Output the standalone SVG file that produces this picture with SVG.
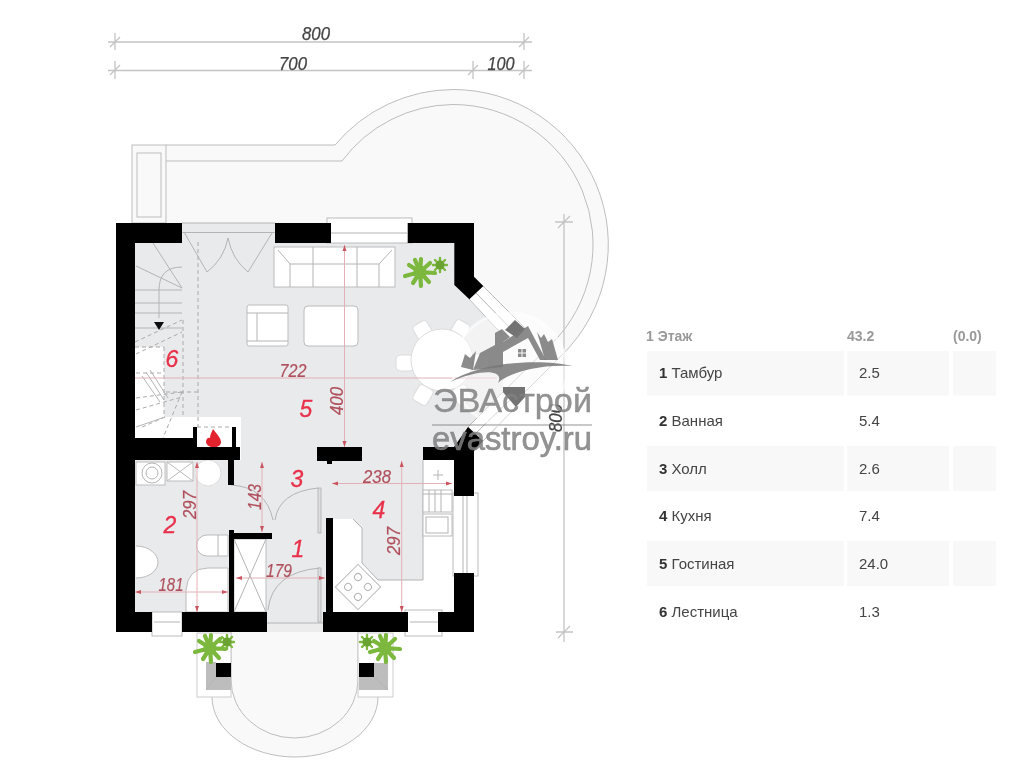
<svg xmlns="http://www.w3.org/2000/svg" width="1024" height="768" viewBox="0 0 1024 768">
<defs>
<filter id="soft" x="0" y="0" width="1024" height="768" filterUnits="userSpaceOnUse"><feGaussianBlur stdDeviation="0.5"/></filter>
<filter id="soft2" x="0" y="0" width="1024" height="768" filterUnits="userSpaceOnUse"><feGaussianBlur stdDeviation="0.3"/></filter>
<style>
.ln{fill:none;stroke:#b4b4b4;stroke-width:1}
.wf{fill:#fff;stroke:#bcbcbc;stroke-width:1}
.ter{fill:#f9f9f9;stroke:#bdbdbd;stroke-width:1}
.tl{fill:none;stroke:#bdbdbd;stroke-width:1}
.tf{fill:#f9f9f9}
.wall{fill:#000}
.dash{fill:none;stroke:#aaa;stroke-width:1;stroke-dasharray:4 3}
.dim{fill:none;stroke:#e2b0b6;stroke-width:1}
.ar{fill:#c9545f}
.gd{fill:none;stroke:#c4c4c4;stroke-width:1.3}
.dt{font:italic 18px "Liberation Sans",Arial,sans-serif;fill:#444;text-anchor:middle;stroke:#444;stroke-width:.25}
.rd{font:italic 18px "Liberation Sans",Arial,sans-serif;fill:#b0505c;text-anchor:middle;stroke:#b0505c;stroke-width:.2}
.rm{font:italic 23px "Liberation Sans",Arial,sans-serif;fill:#e8304a;text-anchor:middle;stroke:#e8304a;stroke-width:.3}
.th{font:bold 14px "Liberation Sans",Arial,sans-serif;fill:#999}
.td{font:15px "Liberation Sans",Arial,sans-serif;fill:#444}
.tb{font-weight:bold;fill:#333}
.rw{fill:#f8f8f8}
.lg{font-family:"Liberation Sans",Arial,sans-serif;fill:#808080;fill-opacity:.85;stroke:#808080;stroke-opacity:.85}
</style>
<g id="plant"><path fill="none" stroke="#7cb83c" stroke-width="4.200" stroke-linecap="round" d="M0 0L1 -13M0 0L10 -9M0 0L15 1M0 0L9 10M0 0L1 14M0 0L-7 11M0 0L-15 4M0 0L-11 -7M0 0L-5 -12"/><circle r="6.500" fill="#7cb83c"/></g>
<g id="plants"><path fill="none" stroke="#7cb83c" stroke-width="2.400" stroke-linecap="round" d="M0 0L0 -7M0 0L5 -5M0 0L7 0M0 0L5 5M0 0L0 7M0 0L-5 5M0 0L-7 0M0 0L-5 -5"/><circle r="4.500" fill="#6aa330"/></g>
<rect id="chair" x="-9" y="-8" width="18" height="16" rx="4" fill="#fff" stroke="#dcdcdc"/>
</defs>
<rect width="1024" height="768" fill="#fff"/>

<g filter="url(#soft)">
<g id="top-dimensions">
<path class="gd" d="M108 42H532M108 70.500H532M115 33V50M524 33V50M115 61V79M473 61V79M524 61V79M110 47L120 37M519 47L529 37M110 75L120 65M468 75L478 65M519 75L529 65"/>
<text class="dt" x="316" y="39.500" textLength="28" lengthAdjust="spacingAndGlyphs">800</text>
<text class="dt" x="293" y="69.500" textLength="28" lengthAdjust="spacingAndGlyphs">700</text>
<text class="dt" x="501" y="69.500" textLength="27" lengthAdjust="spacingAndGlyphs">100</text>
</g>

<g id="terrace">
<path class="tf" d="M166 145H335A155 155 0 0 1 453 89.500A155 155 0 0 1 563 354L480 437L454 447V223H166Z"/>
<path class="tl" d="M166 145H335A155 155 0 0 1 453 89.500A155 155 0 0 1 563 354L480 437"/>
<path class="tl" d="M166 161H342A140 140 0 0 1 453 104.500A140 140 0 0 1 552 343.500L474 421"/>
<rect class="ter" x="132" y="145" width="34" height="78"/>
<rect class="ter" x="137" y="153" width="24" height="64"/>
<path id="porch-outer" class="ter" d="M212 697A83 60 0 0 0 378 697"/>
<path id="porch-inner" class="ter" d="M231 632V680A63.500 58 0 0 0 358 680V632"/>
<path class="gd" d="M564 214V642M555 222H573M556 632H573M558 228L570 216M558 638L570 626"/>
<text class="dt" transform="translate(562 418) rotate(-90)" textLength="28" lengthAdjust="spacingAndGlyphs">800</text>
</g>

<g id="floors">
<path fill="#e9eaec" d="M135 242H182V223H275V242H454V285L497 328L503 340V392L468 427L454 447H423V580H378L362 563V528L353 519H333V612H323V632H267V612H234V480H241V417H164V347H135Z"/>
<path fill="#e9eaec" d="M135 460H229V612H135Z"/>
<path fill="#e9eaec" d="M228 460H320V540H228Z"/>
<rect x="267" y="623" width="56" height="9" fill="#ececec"/>
<path class="ln" d="M182 232.500H275M267 623H323M182 223H275"/>
</g>

<g id="stairs">
<path class="ln" d="M135 290H182M135 303H182M135 313H182M135 328H182M153 243L182 288M136 266L182 288M159 318V290Q159 267 182 267"/>
<path d="M154 322H164L159 330Z" fill="#111"/>
<path class="dash" d="M198 242V427M183 320V415M135 342L182 320M135 347H164M164 347V417M136 373H164M136 398L182 392M198 392H164M136 410L182 397M165 417L140 428M182 392L163 438M136 354L182 332"/>
<path class="ln" d="M142 376L160 402M146 372L164 400M150 370L168 398M136 427L165 417"/>
</g>

<g id="planters">
<rect x="197" y="633" width="34" height="64" fill="#fff" stroke="#ccc"/>
<rect x="358" y="633" width="35" height="64" fill="#fff" stroke="#ccc"/>
<path fill="#bdbdbd" d="M206 662H216V677H231V690H206Z"/>
<path fill="#bdbdbd" d="M374 663H388V690H359V677H374Z"/>
<path class="ln" d="M206 690L216 677M388 690L374 677"/>
</g>

<g id="furniture">
<g id="sofa"><rect class="wf" x="274" y="247" width="121" height="40"/><path class="ln" d="M278 250L290 264H379L392 250M290 264V287M379 264V287M313 247V287M357 247V287"/></g>
<g id="armchair"><rect class="wf" x="247" y="305" width="41" height="41" rx="2"/><path class="ln" d="M247 313H288M247 341H288M257 313V341"/></g>
<rect id="armchair-2" class="wf" x="304" y="306" width="54" height="40" rx="4" stroke-width="2"/>
<g id="dining">
<use href="#chair" transform="translate(405 363) rotate(0)"/>
<use href="#chair" transform="translate(423 331) rotate(60)"/>
<use href="#chair" transform="translate(460 330) rotate(-60)"/>
<use href="#chair" transform="translate(423 395) rotate(-60)"/>
<use href="#chair" transform="translate(462 395) rotate(60)"/>
<use href="#chair" transform="translate(480 362) rotate(0)"/>
<circle cx="442" cy="360" r="31" fill="#fff" stroke="#dcdcdc"/>
</g>
<g id="double-door"><path class="ln" d="M184 232L207 272Q224 259 228 238Q232 259 248 272L272 233"/></g>
<g id="fireplace"><rect x="197" y="427" width="35" height="20" fill="#fff"/><path class="dash" d="M197 427H232"/><path fill="#e3202e" d="M213 429C216 433 221 438 221 442C221 449 207 449 206 442C206 438 209 437 210 438C210 434 212 432 213 429Z"/></g>
<g id="bath">
<rect class="wf" x="136" y="462" width="29" height="23"/><circle class="ln" cx="152" cy="473" r="10"/><circle class="ln" cx="152" cy="473" r="6"/>
<path class="wf" d="M167 462H193V481H167ZM167 462L193 481M193 462L167 481"/>
<circle cx="208" cy="473" r="13" fill="#fff" stroke="#ddd"/>
<path class="wf" d="M228 535H207A10.500 10.500 0 0 0 207 556H228Z"/>
<path class="ln" d="M218 535V556"/>
<path class="wf" d="M136 546C150 546 158 555 158 562C158 570 150 578 136 578"/>
<path class="wf" d="M186 612V590Q188 568 208 568H228V612Z"/>
</g>
<g id="shower"><rect class="wf" x="234" y="539" width="32" height="73"/><path class="ln" d="M234 539L266 612M266 539L234 612"/></g>
<g id="doors">
<path class="ln" d="M275 520Q279 492 318 488M231 485Q266 487 273 520M268 610Q272 572 320 568"/>
<rect x="318" y="488" width="3" height="45" fill="#ddd" stroke="#aaa" stroke-width=".7"/>
<rect x="318" y="568" width="3" height="54" fill="#ddd" stroke="#aaa" stroke-width=".7"/>
</g>
<g id="kitchen">
<path fill="#fff" d="M333 519H353L362 528V563L378 580H423V460H454V612H333Z"/>
<path class="ln" d="M423 460V580H378L362 563V528L353 519"/>
<rect class="wf" x="423" y="490" width="29" height="22"/><path class="ln" d="M429 490V512M435 490V512M441 490V512M423 494H452"/>
<rect class="wf" x="423" y="514" width="29" height="22"/><rect class="ln" x="426" y="517" width="22" height="16"/>
<path class="ln" d="M433 475H443M438 470V480"/>
<g transform="translate(358 587) rotate(45)"><rect class="wf" x="-16" y="-16" width="32" height="32"/><circle class="ln" cx="-7" cy="-7" r="3.500"/><circle class="ln" cx="7" cy="-7" r="3.500"/><circle class="ln" cx="-7" cy="7" r="3.500"/><circle class="ln" cx="7" cy="7" r="3.500"/></g>
</g>
<g id="plants-group">
<use href="#plant" x="420" y="272"/><use href="#plants" x="440" y="265"/>
<use href="#plant" x="210" y="648"/><use href="#plants" x="227" y="642"/>
<use href="#plant" x="385" y="648"/><use href="#plants" x="367" y="642"/>
</g>
</g>

<g id="windows">
<rect class="wf" x="327" y="218" width="85" height="25"/><path class="ln" d="M331 233H407"/>
<rect class="wf" x="152" y="612" width="30" height="24"/><path class="ln" d="M154 622H180"/>
<rect class="wf" x="405" y="610" width="37" height="26"/><path class="ln" d="M410 622H438"/>
<rect class="wf" x="453" y="493" width="25" height="83"/><path class="ln" d="M463 496V573M467 496V573"/>
<path class="wf" d="M469 299L483 286L525 328L510 343Z"/><path class="ln" d="M476 293L518 336"/>
<path class="wf" d="M483 441L468 427L503 392L516 407Z"/><path class="ln" d="M475 434L510 400"/>
</g>

<g id="walls" class="wall">
<path d="M116 223H182V243H135V438H193V427H197V447H232V427H236V447H240V460H234V485H228V460H135V612H152V632H116Z"/>
<rect x="275" y="223" width="56" height="20"/>
<path d="M407.700 223H474V276.700L483.300 286L469.300 299.300L454.300 285V243H407.700Z"/>
<path d="M505 330L515 320L525 329L517 338Z"/>
<path d="M503 387H525V397L516 407L503 392Z"/>
<path d="M423 447H454L468 427L483 441L474 451V496H454V460H423Z"/>
<rect x="317" y="447" width="45" height="14"/><rect x="327" y="461" width="5" height="3"/>
<path d="M182 612H229V530H234V533H272V539H234V612H267V632H182Z"/>
<path d="M326 518H333V612H408V632H323V612H326Z"/>
<path d="M454 573H474V632H438V612H454Z"/>
<rect x="216" y="663" width="15" height="14"/><rect x="359" y="663" width="15" height="14"/>
</g>

<g id="dims">
<path class="dim" d="M135 378H497M344.500 245V447M332 483.500H452M401.700 461V612M197 462V612M262 462V532M135 592H228M236 578H325"/>
<path class="ar" d="M342.500 251L344.500 245L346.500 251ZM342.500 441L344.500 447L346.500 441ZM338 481.500L332 483.500L338 485.500ZM446 481.500L452 483.500L446 485.500ZM399.700 467L401.700 461L403.700 467ZM399.700 606L401.700 612L403.700 606ZM195 468L197 462L199 468ZM195 606L197 612L199 606ZM260 468L262 462L264 468ZM260 526L262 532L264 526ZM141 590L135 592L141 594ZM222 590L228 592L222 594ZM242 576L236 578L242 580ZM319 576L325 578L319 580Z"/>
<text class="rd" x="293" y="376.500" textLength="27" lengthAdjust="spacingAndGlyphs">722</text>
<text class="rd" transform="translate(343 401) rotate(-90)" textLength="28" lengthAdjust="spacingAndGlyphs">400</text>
<text class="rd" x="377" y="483" textLength="28" lengthAdjust="spacingAndGlyphs">238</text>
<text class="rd" transform="translate(400 541) rotate(-90)" textLength="28" lengthAdjust="spacingAndGlyphs">297</text>
<text class="rd" transform="translate(196 505) rotate(-90)" textLength="28" lengthAdjust="spacingAndGlyphs">297</text>
<text class="rd" transform="translate(261 497) rotate(-90)" textLength="26" lengthAdjust="spacingAndGlyphs">143</text>
<text class="rd" x="171" y="590.500" textLength="25" lengthAdjust="spacingAndGlyphs">181</text>
<text class="rd" x="279" y="577" textLength="26" lengthAdjust="spacingAndGlyphs">179</text>
<text class="rm" x="172" y="366.500">6</text>
<text class="rm" x="306" y="416.500">5</text>
<text class="rm" x="297" y="487">3</text>
<text class="rm" x="379" y="518">4</text>
<text class="rm" x="298" y="557">1</text>
<text class="rm" x="170" y="533">2</text>
</g>

<g id="logo">
<circle cx="510" cy="370" r="57" fill="#fff" fill-opacity=".45" stroke="#fff" stroke-opacity=".6" stroke-width="3"/>
<g fill="#777" fill-opacity=".85">
<path d="M473 370L480 353L495 345V333L502 329L510 337L503 342V367Z"/>
<path d="M503 342L528 326L546 360L540 360L528 338L503 352Z"/>
<path d="M461 367L465 354L470 358L476 351L473 370Z"/>
<path d="M537 332L541 338L544 334L548 342L552 339L558 360H545Z"/>
<path d="M450 382C480 362 540 358 573 366C540 364 510 372 498 383C505 369 480 369 450 382Z"/>
<rect x="518" y="349" width="3.500" height="3.500"/><rect x="522.500" y="349" width="3.500" height="3.500"/><rect x="518" y="353.500" width="3.500" height="3.500"/><rect x="522.500" y="353.500" width="3.500" height="3.500"/>
</g>
<text class="lg" x="433" y="412" font-size="33" stroke-width=".4" textLength="159" lengthAdjust="spacingAndGlyphs">ЭВАстрой</text>
<rect x="432" y="424.500" width="160" height="1" fill="#777" fill-opacity=".8"/>
<text class="lg" x="432" y="450" font-size="33" stroke-width=".6" textLength="160" lengthAdjust="spacingAndGlyphs">evastroy.ru</text>
</g>
</g>

<g id="table" filter="url(#soft2)">
<rect class="rw" x="647" y="351" width="197" height="44.500"/><rect class="rw" x="847" y="351" width="102" height="44.500"/><rect class="rw" x="953" y="351" width="43" height="44.500"/>
<rect class="rw" x="647" y="446" width="197" height="45"/><rect class="rw" x="847" y="446" width="102" height="45"/><rect class="rw" x="953" y="446" width="43" height="45"/>
<rect class="rw" x="647" y="541" width="197" height="45"/><rect class="rw" x="847" y="541" width="102" height="45"/><rect class="rw" x="953" y="541" width="43" height="45"/>
<text class="th" x="646" y="341">1 Этаж</text><text class="th" x="847" y="341">43.2</text><text class="th" x="953" y="341">(0.0)</text>
<text class="td" x="659" y="378"><tspan class="tb">1</tspan> Тамбур</text><text class="td" x="859" y="378">2.5</text>
<text class="td" x="659" y="426"><tspan class="tb">2</tspan> Ванная</text><text class="td" x="859" y="426">5.4</text>
<text class="td" x="659" y="473.500"><tspan class="tb">3</tspan> Холл</text><text class="td" x="859" y="473.500">2.6</text>
<text class="td" x="659" y="521"><tspan class="tb">4</tspan> Кухня</text><text class="td" x="859" y="521">7.4</text>
<text class="td" x="659" y="569"><tspan class="tb">5</tspan> Гостиная</text><text class="td" x="859" y="569">24.0</text>
<text class="td" x="659" y="616.500"><tspan class="tb">6</tspan> Лестница</text><text class="td" x="859" y="616.500">1.3</text>
</g>
</svg>
